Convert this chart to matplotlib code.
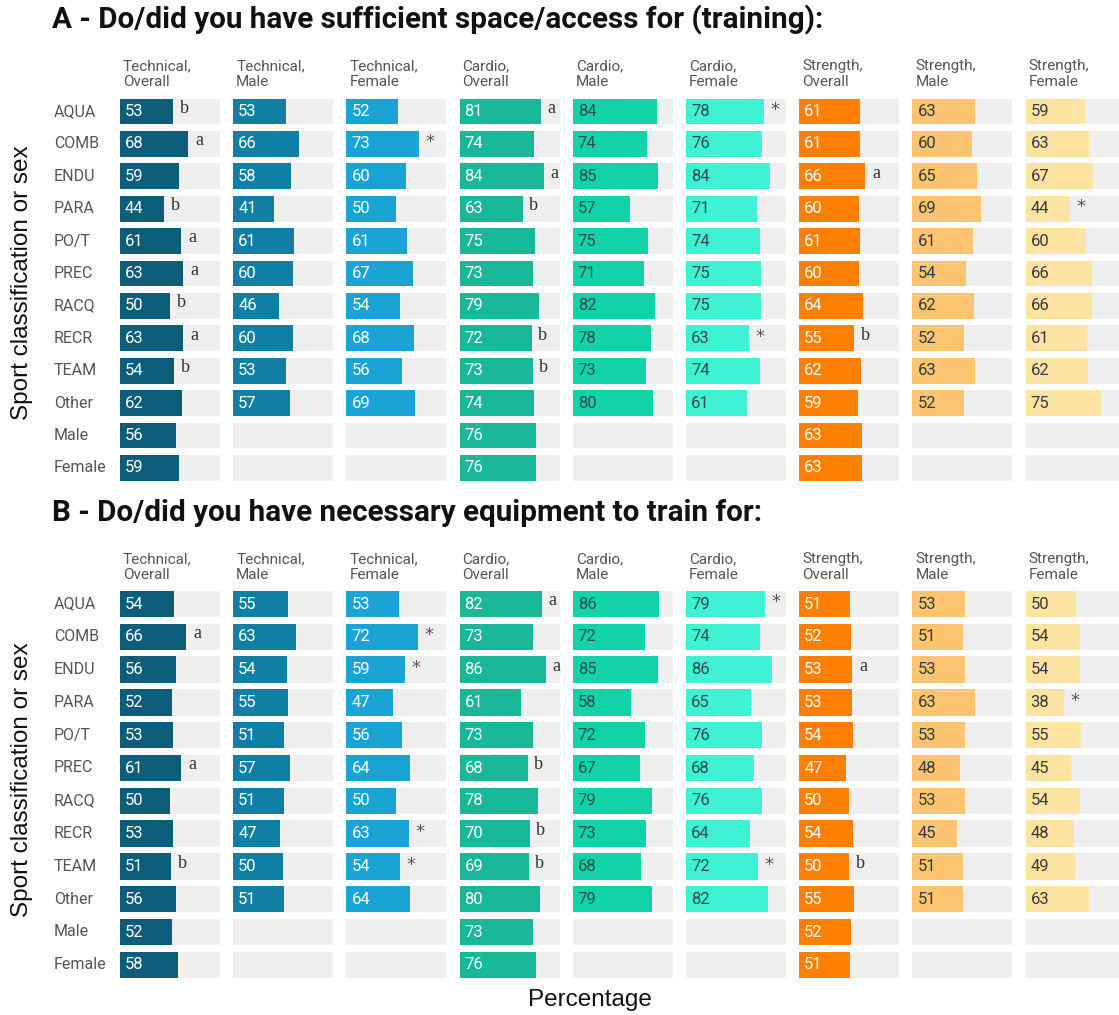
import matplotlib.pyplot as plt

# --- data -------------------------------------------------------------
ROWS = ['AQUA', 'COMB', 'ENDU', 'PARA', 'PO/T', 'PREC', 'RACQ', 'RECR',
        'TEAM', 'Other', 'Male', 'Female']
COLUMNS = ['Technical,\nOverall', 'Technical,\nMale', 'Technical,\nFemale',
           'Cardio,\nOverall', 'Cardio,\nMale', 'Cardio,\nFemale',
           'Strength,\nOverall', 'Strength,\nMale', 'Strength,\nFemale']
TITLE_A = 'A - Do/did you have sufficient space/access for (training):'
TITLE_B = 'B - Do/did you have necessary equipment to train for:'

# panel A values (None = no bar)
A_TECH_ALL = [53, 68, 59, 44, 61, 63, 50, 63, 54, 62, 56, 59]
A_TECH_M = [53, 66, 58, 41, 61, 60, 46, 60, 53, 57, None, None]
A_TECH_F = [52, 73, 60, 50, 61, 67, 54, 68, 56, 69, None, None]
A_CARD_ALL = [81, 74, 84, 63, 75, 73, 79, 72, 73, 74, 76, 76]
A_CARD_M = [84, 74, 85, 57, 75, 71, 82, 78, 73, 80, None, None]
A_CARD_F = [78, 76, 84, 71, 74, 75, 75, 63, 74, 61, None, None]
A_STR_ALL = [61, 61, 66, 60, 61, 60, 64, 55, 62, 59, 63, 63]
A_STR_M = [63, 60, 65, 69, 61, 54, 62, 52, 63, 52, None, None]
A_STR_F = [59, 63, 67, 44, 60, 66, 66, 61, 62, 75, None, None]

# panel A significance marks
A_TECH_ALL_SIG = ['b', 'a', '', 'b', 'a', 'a', 'b', 'a', 'b', '', '', '']
A_TECH_F_SIG = ['', '*', '', '', '', '', '', '', '', '', '', '']
A_CARD_ALL_SIG = ['a', '', 'a', 'b', '', '', '', 'b', 'b', '', '', '']
A_CARD_F_SIG = ['*', '', '', '', '', '', '', '*', '', '', '', '']
A_STR_ALL_SIG = ['', '', 'a', '', '', '', '', 'b', '', '', '', '']
A_STR_F_SIG = ['', '', '', '*', '', '', '', '', '', '', '', '']

# panel B values
B_TECH_ALL = [54, 66, 56, 52, 53, 61, 50, 53, 51, 56, 52, 58]
B_TECH_M = [55, 63, 54, 55, 51, 57, 51, 47, 50, 51, None, None]
B_TECH_F = [53, 72, 59, 47, 56, 64, 50, 63, 54, 64, None, None]
B_CARD_ALL = [82, 73, 86, 61, 73, 68, 78, 70, 69, 80, 73, 76]
B_CARD_M = [86, 72, 85, 58, 72, 67, 79, 73, 68, 79, None, None]
B_CARD_F = [79, 74, 86, 65, 76, 68, 76, 64, 72, 82, None, None]
B_STR_ALL = [51, 52, 53, 53, 54, 47, 50, 54, 50, 55, 52, 51]
B_STR_M = [53, 51, 53, 63, 53, 48, 53, 45, 51, 51, None, None]
B_STR_F = [50, 54, 54, 38, 55, 45, 54, 48, 49, 63, None, None]

# panel B significance marks
B_TECH_ALL_SIG = ['', 'a', '', '', '', 'a', '', '', 'b', '', '', '']
B_TECH_F_SIG = ['', '*', '*', '', '', '', '', '*', '*', '', '', '']
B_CARD_ALL_SIG = ['a', '', 'a', '', '', 'b', '', 'b', 'b', '', '', '']
B_CARD_F_SIG = ['*', '', '', '', '', '', '', '', '*', '', '', '']
B_STR_ALL_SIG = ['', '', 'a', '', '', '', '', '', 'b', '', '', '']
B_STR_F_SIG = ['', '', '', '*', '', '', '', '', '', '', '', '']

NO_SIG = [''] * 12

# --- style ------------------------------------------------------------
BAR_COLORS = ['#0b5d7a', '#0f7fa3', '#1aa4d6', '#17b798', '#12d3a8',
              '#3ff2d3', '#ff7f00', '#fdc572', '#fde4a3']
TEXT_COLORS = ['white', 'white', 'white', 'white', '#2f4f4f',
               '#2f4f4f', 'white', '#3a3a3a', '#3a3a3a']
BG = '#efefef'

W, H = 1119, 1015
fig = plt.figure(figsize=(W / 100, H / 100), dpi=100)
fig.patch.set_facecolor('white')

COL_X0 = 120
COL_PITCH = 113.2
COL_W = 100


def draw_panel(title, title_y, first_row_y, pitch, header_y, data, sigs):
    fig.text(52 / W, 1 - title_y / H, title, fontsize=21.3, fontweight='bold',
             family='Roboto', ha='left', va='center', color='#111111')
    top = first_row_y - pitch / 2
    height = pitch * len(ROWS)
    for r, name in enumerate(ROWS):
        fig.text(54 / W, 1 - (first_row_y + r * pitch) / H, name, fontsize=11.5,
                 family='Roboto', ha='left', va='center', color='#555555')
    for c, (vals, sig) in enumerate(zip(data, sigs)):
        x0 = COL_X0 + c * COL_PITCH
        ax = fig.add_axes([x0 / W, 1 - (top + height) / H, COL_W / W, height / H])
        ypos = list(range(len(ROWS)))
        ax.barh(ypos, [100] * len(ROWS), height=0.8, color=BG, lw=0)
        for y, v, s in zip(ypos, vals, sig):
            if v is None:
                continue
            ax.barh(y, v, height=0.8, color=BAR_COLORS[c], lw=0)
            ax.text(5, y, str(v), ha='left', va='center', fontsize=12,
                    family='Roboto', color=TEXT_COLORS[c])
            if s:
                if s == '*':
                    ax.text(v + 11, y - 0.05, s, ha='center', va='center',
                            fontsize=13, family='DejaVu Sans', color='#555555')
                else:
                    ax.text(v + 11, y - 0.1, s, ha='center', va='center',
                            fontsize=13, family='Liberation Serif', color='#333333')
        ax.set_xlim(0, 100)
        ax.set_ylim(len(ROWS) - 0.5, -0.5)
        ax.axis('off')
        fig.text((x0 + 3) / W, 1 - header_y / H, COLUMNS[c], fontsize=11,
                 family='Roboto', ha='left', va='center', color='#555555',
                 linespacing=1.15)


draw_panel(TITLE_A, 20, 111.5, 32.4, 74,
           [A_TECH_ALL, A_TECH_M, A_TECH_F, A_CARD_ALL, A_CARD_M, A_CARD_F,
            A_STR_ALL, A_STR_M, A_STR_F],
           [A_TECH_ALL_SIG, NO_SIG, A_TECH_F_SIG, A_CARD_ALL_SIG, NO_SIG,
            A_CARD_F_SIG, A_STR_ALL_SIG, NO_SIG, A_STR_F_SIG])

draw_panel(TITLE_B, 513, 604, 32.8, 567,
           [B_TECH_ALL, B_TECH_M, B_TECH_F, B_CARD_ALL, B_CARD_M, B_CARD_F,
            B_STR_ALL, B_STR_M, B_STR_F],
           [B_TECH_ALL_SIG, NO_SIG, B_TECH_F_SIG, B_CARD_ALL_SIG, NO_SIG,
            B_CARD_F_SIG, B_STR_ALL_SIG, NO_SIG, B_STR_F_SIG])

for yc in (283, 780):
    fig.text(22 / W, 1 - yc / H, 'Sport classification or sex', rotation=90,
             fontsize=17.5, family='Liberation Sans', ha='center', va='center',
             color='#111111')
fig.text(590 / W, 1 - 1000 / H, 'Percentage', fontsize=17.5,
         family='Liberation Sans', ha='center', va='center', color='#111111')

fig.savefig('out.png', dpi=100, facecolor='white')
